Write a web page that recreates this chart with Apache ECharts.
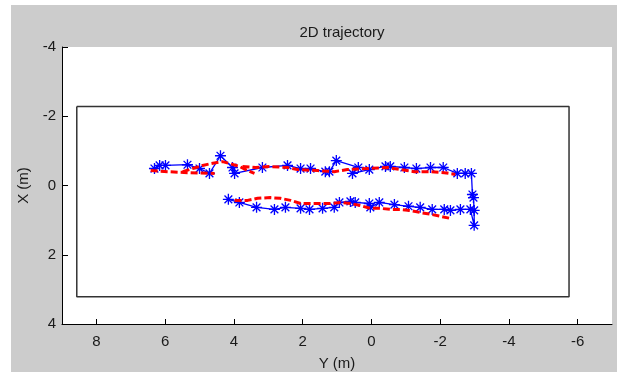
<!DOCTYPE html>
<html>
<head>
<meta charset="utf-8">
<script src="https://cdn.jsdelivr.net/npm/echarts@6/dist/echarts.min.js"></script>
<style>
  html, body { margin: 0; padding: 0; background: #fff; }
  #figbg { position: absolute; left: 11px; top: 5px; width: 606px; height: 367px; background: #cccccc; }
  #chart { position: absolute; left: 0; top: 0; width: 617px; height: 372px; }
</style>
</head>
<body>
<div id="figbg"></div>
<div id="chart"></div>
<script>
// tick labels
const yTicks = [8, 6, 4, 2, 0, -2, -4, -6];

// room outline, [Y, X] in metres
const roomCorners = [[8.57, -2.28], [-5.75, -2.28], [-5.75, 3.21], [8.57, 3.21], [8.57, -2.28]];

// measured track (blue stars), [Y, X]
const blueTrack = [
  [6.31, -0.49], [6.16, -0.58], [5.99, -0.58], [5.35, -0.60], [5.00, -0.49],
  [4.71, -0.35], [4.39, -0.86], [4.04, -0.52], [3.98, -0.35], [3.17, -0.52],
  [2.44, -0.58], [2.06, -0.49], [1.77, -0.49], [1.34, -0.40], [1.22, -0.40],
  [1.02, -0.72], [0.38, -0.52], [0.55, -0.35], [0.06, -0.46], [-0.41, -0.55],
  [-0.55, -0.55], [-0.96, -0.52], [-1.31, -0.49], [-1.72, -0.52], [-2.09, -0.52],
  [-2.50, -0.35], [-2.73, -0.35], [-2.91, -0.35], [-2.94, 0.26], [-2.97, 0.35],
  [-2.99, 0.72], [-2.99, 1.15], [-2.88, 0.69], [-2.59, 0.69], [-2.30, 0.72],
  [-2.12, 0.69], [-1.77, 0.69], [-1.42, 0.63], [-1.08, 0.60], [-0.67, 0.55],
  [-0.23, 0.49], [0.03, 0.63], [0.06, 0.52], [0.47, 0.49], [0.61, 0.46],
  [0.93, 0.49], [1.08, 0.63], [1.42, 0.66], [1.80, 0.69], [2.06, 0.66],
  [2.50, 0.63], [2.82, 0.69], [3.34, 0.63], [3.84, 0.49], [4.16, 0.40]
];

// estimated track (red dashed), [Y, X]
const redUpperA = [[6.42, -0.43], [5.93, -0.40], [5.35, -0.37], [4.56, -0.35]];
const redUpperB = [
  [5.49, -0.40], [5.20, -0.49], [4.91, -0.58], [4.68, -0.63], [4.33, -0.69],
  [4.10, -0.63], [3.84, -0.55], [3.60, -0.43], [3.40, -0.35]
];
const redUpperC = [
  [3.75, -0.55], [3.37, -0.52], [2.97, -0.55], [2.44, -0.52], [2.15, -0.46],
  [1.57, -0.43], [1.08, -0.40], [0.70, -0.46], [0.12, -0.49], [-0.47, -0.52],
  [-0.84, -0.46], [-1.25, -0.40], [-1.72, -0.40], [-2.12, -0.37], [-2.44, -0.32]
];
const redLower = [
  [3.98, 0.43], [3.60, 0.43], [3.31, 0.37], [2.94, 0.35], [2.65, 0.37],
  [2.35, 0.43], [2.06, 0.52], [1.66, 0.52], [1.19, 0.52], [0.90, 0.49],
  [0.61, 0.52], [0.32, 0.58], [0.03, 0.66], [-0.26, 0.66], [-0.55, 0.69],
  [-0.84, 0.69], [-1.13, 0.72], [-1.42, 0.78], [-1.72, 0.83], [-2.01, 0.89],
  [-2.30, 0.95]
];

// asterisk marker like matlab '*'
const star = 'path://M8.8,0L11.2,0L11.2,20L8.8,20Z M0,8.8L20,8.8L20,11.2L0,11.2Z ' +
  'M2.1,3.8L3.8,2.1L17.9,16.2L16.2,17.9Z M16.2,2.1L17.9,3.8L3.8,17.9L2.1,16.2Z';

const font = "'Liberation Sans', Arial, sans-serif";

function redSeries(data) {
  return {
    type: 'line',
    data: data,
    symbol: 'none',
    z: 4,
    lineStyle: { color: '#ff0000', width: 3, type: [7, 3] }
  };
}

const chart = echarts.init(document.getElementById('chart'));
chart.setOption({
  animation: false,
  title: {
    text: '2D trajectory',
    left: 337,
    top: 20,
    textAlign: 'center',
    textStyle: { fontFamily: font, fontSize: 15, fontWeight: 'normal', color: '#1a1a1a' }
  },
  grid: {
    left: 62, top: 47, width: 550, height: 277,
    outerBoundsMode: 'none',
    show: true, backgroundColor: '#ffffff', borderWidth: 0
  },
  xAxis: {
    type: 'value',
    min: -7, max: 9, inverse: true,
    name: 'Y (m)', nameLocation: 'middle', nameGap: 32,
    nameTextStyle: { fontFamily: font, fontSize: 15, color: '#1a1a1a' },
    axisLine: { onZero: false, lineStyle: { color: '#000', width: 1 } },
    axisTick: { inside: true, length: 5, customValues: yTicks, lineStyle: { color: '#000' } },
    axisLabel: { customValues: yTicks, margin: 10, fontFamily: font, fontSize: 15, color: '#1a1a1a' },
    splitLine: { show: false }
  },
  yAxis: {
    type: 'value',
    min: -4, max: 4, interval: 2, inverse: true,
    name: 'X (m)', nameLocation: 'middle', nameGap: 30, nameRotate: 90,
    nameTextStyle: { fontFamily: font, fontSize: 15, color: '#1a1a1a' },
    axisLine: { onZero: false, lineStyle: { color: '#000', width: 1 } },
    axisTick: { inside: true, length: 6, lineStyle: { color: '#000' } },
    axisLabel: { margin: 6, fontFamily: font, fontSize: 15, color: '#1a1a1a' },
    splitLine: { show: false }
  },
  series: [
    {
      type: 'line',
      data: roomCorners,
      symbol: 'none',
      z: 2,
      lineStyle: { color: '#333333', width: 1.5 }
    },
    {
      type: 'line',
      data: blueTrack,
      symbol: star,
      symbolSize: 11,
      showAllSymbol: true,
      z: 3,
      itemStyle: { color: '#0000ff' },
      lineStyle: { color: '#0000ff', width: 1.3 }
    },
    redSeries(redUpperA),
    redSeries(redUpperB),
    redSeries(redUpperC),
    redSeries(redLower)
  ]
});
</script>
</body>
</html>
